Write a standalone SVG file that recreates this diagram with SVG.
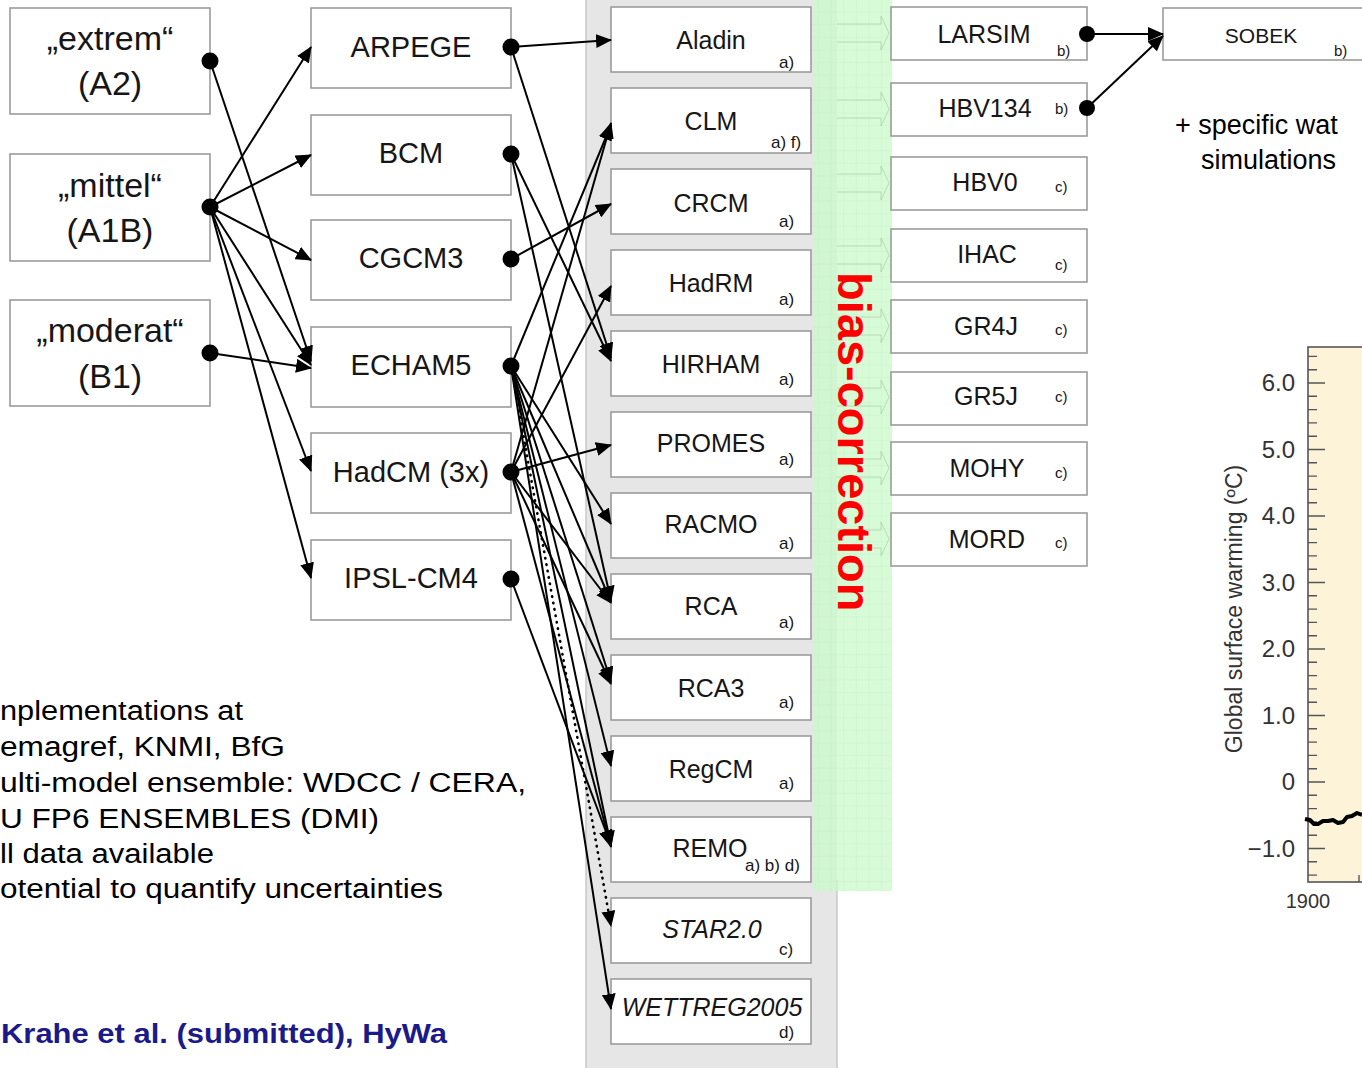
<svg xmlns="http://www.w3.org/2000/svg" width="1362" height="1068" viewBox="0 0 1362 1068">
<defs>
<style>
.t{font-family:"Liberation Sans",Arial,Helvetica,sans-serif;fill:#161616}
.box{fill:#ffffff;stroke:#9c9c9c;stroke-width:1.6}
.sc{font-size:34px;text-anchor:middle}
.gcm{font-size:29px;text-anchor:middle}
.rcm{font-size:25px;text-anchor:middle}
.hyd{font-size:25px;text-anchor:middle}
.sub{font-size:17px}
.hsub{font-size:15px}
.conn line{stroke:#000;stroke-width:2;marker-end:url(#ah)}
.conn line.dot{stroke-width:2.6;stroke-dasharray:0.5 6;stroke-linecap:round}
.dotc{fill:#000}
.body{font-size:27px;fill:#000}
.ax{font-size:24px;fill:#333;text-anchor:end}
.ghost{fill:none;stroke:#a8cfa8;stroke-width:1;stroke-opacity:0.7}
</style>
<marker id="ah" viewBox="0 0 16 14" refX="15" refY="7" markerWidth="16" markerHeight="14" markerUnits="userSpaceOnUse" orient="auto">
<path d="M0,0 L16,7 L0,14 z" fill="#000"/>
</marker>
<pattern id="grid" width="12.6" height="12.6" patternUnits="userSpaceOnUse">
<path d="M12.6,0 V12.6 M0,12.6 H12.6" fill="none" stroke="#bfeabf" stroke-width="0.8" stroke-opacity="0.6"/>
</pattern>
</defs>

<rect width="1362" height="1068" fill="#ffffff"/>

<g id="background">
<rect x="586" y="0" width="251" height="1068" fill="#e6e6e6"/>
<line x1="586" y1="0" x2="586" y2="1068" stroke="#c9c9c9" stroke-width="1.5"/>
<line x1="837" y1="880" x2="837" y2="1068" stroke="#c9c9c9" stroke-width="1.5"/>
<rect x="813" y="0" width="79" height="891" fill="#c8fac8" fill-opacity="0.75"/>
<rect x="813" y="0" width="79" height="891" fill="url(#grid)"/>
<g id="ghost-arrows">
<path class="ghost" d="M837,24 H881 V16 L889,33 L881,50 V42 H837"/>
<path class="ghost" d="M837,100 H881 V92 L889,109 L881,126 V118 H837"/>
<path class="ghost" d="M837,174 H881 V166 L889,183 L881,200 V192 H837"/>
<path class="ghost" d="M837,246 H881 V238 L889,255 L881,272 V264 H837"/>
<path class="ghost" d="M837,317 H881 V309 L889,326 L881,343 V335 H837"/>
<path class="ghost" d="M837,388 H881 V380 L889,397 L881,414 V406 H837"/>
<path class="ghost" d="M837,459 H881 V451 L889,468 L881,485 V477 H837"/>
<path class="ghost" d="M837,530 H881 V522 L889,539 L881,556 V548 H837"/>
</g>
<text class="t" transform="translate(838,272) rotate(90)" style="font-size:47px;font-weight:bold;fill:#ff0000">bias-correction</text>
</g>

<g id="chart">
<rect x="1308" y="347" width="60" height="535" fill="#fdf3d8" stroke="#555" stroke-width="1.6"/>
<path d="M1308,356.4h9M1308,369.7h9M1308,383h17M1308,396.3h9M1308,409.6h9M1308,422.9h9M1308,436.2h9M1308,449.5h17M1308,462.8h9M1308,476.1h9M1308,489.4h9M1308,502.7h9M1308,516h17M1308,529.3h9M1308,542.6h9M1308,555.9h9M1308,569.2h9M1308,582.5h17M1308,595.8h9M1308,609.1h9M1308,622.4h9M1308,635.7h9M1308,649h17M1308,662.3h9M1308,675.6h9M1308,688.9h9M1308,702.2h9M1308,715.5h17M1308,728.8h9M1308,742.1h9M1308,755.4h9M1308,768.7h9M1308,782h17M1308,795.3h9M1308,808.6h9M1308,821.9h9M1308,835.2h9M1308,848.5h17M1308,861.8h9M1308,875.1h9M1359,882v-7" stroke="#555" stroke-width="1.4" fill="none"/>
<polyline points="1305,819 1310,820 1314,824 1318,824 1323,821 1328,821 1333,820 1338,823 1343,822 1347,817 1352,816 1357,813 1362,815" fill="none" stroke="#000" stroke-width="4" stroke-linejoin="round"/>
<text class="t ax" x="1295" y="391">6.0</text>
<text class="t ax" x="1295" y="457.5">5.0</text>
<text class="t ax" x="1295" y="524">4.0</text>
<text class="t ax" x="1295" y="590.5">3.0</text>
<text class="t ax" x="1295" y="657">2.0</text>
<text class="t ax" x="1295" y="723.5">1.0</text>
<text class="t ax" x="1295" y="790">0</text>
<text class="t ax" x="1295" y="856.5">−1.0</text>
<text class="t" x="1308" y="908" style="font-size:20px;fill:#333;text-anchor:middle">1900</text>
<text class="t" transform="translate(1242,609) rotate(-90)" style="font-size:23px;fill:#333;text-anchor:middle">Global surface warming (ºC)</text>
</g>

<g id="scenario-extrem"><rect class="box" x="10" y="8" width="200" height="106"/><text class="t sc" x="110" y="50">„extrem“</text><text class="t sc" x="110" y="95">(A2)</text></g>
<g id="scenario-mittel"><rect class="box" x="10" y="154" width="200" height="107"/><text class="t sc" x="110" y="197">„mittel“</text><text class="t sc" x="110" y="242">(A1B)</text></g>
<g id="scenario-moderat"><rect class="box" x="10" y="300" width="200" height="106"/><text class="t sc" x="110" y="342">„moderat“</text><text class="t sc" x="110" y="388">(B1)</text></g>

<g id="gcm-arpege"><rect class="box" x="311" y="8" width="200" height="80"/><text class="t gcm" x="411" y="57">ARPEGE</text></g>
<g id="gcm-bcm"><rect class="box" x="311" y="115" width="200" height="80"/><text class="t gcm" x="411" y="163">BCM</text></g>
<g id="gcm-cgcm3"><rect class="box" x="311" y="220" width="200" height="80"/><text class="t gcm" x="411" y="268">CGCM3</text></g>
<g id="gcm-echam5"><rect class="box" x="311" y="327" width="200" height="80"/><text class="t gcm" x="411" y="375">ECHAM5</text></g>
<g id="gcm-hadcm"><rect class="box" x="311" y="433" width="200" height="80"/><text class="t gcm" x="411" y="482">HadCM (3x)</text></g>
<g id="gcm-ipsl"><rect class="box" x="311" y="540" width="200" height="80"/><text class="t gcm" x="411" y="588">IPSL-CM4</text></g>

<g id="rcm-aladin"><rect class="box" x="611" y="7" width="200" height="65"/><text class="t rcm" x="711" y="49">Aladin</text><text class="t sub" x="779" y="68">a)</text></g>
<g id="rcm-clm"><rect class="box" x="611" y="88" width="200" height="65"/><text class="t rcm" x="711" y="130">CLM</text><text class="t sub" x="771" y="148">a) f)</text></g>
<g id="rcm-crcm"><rect class="box" x="611" y="169" width="200" height="65"/><text class="t rcm" x="711" y="212">CRCM</text><text class="t sub" x="779" y="227">a)</text></g>
<g id="rcm-hadrm"><rect class="box" x="611" y="250" width="200" height="65"/><text class="t rcm" x="711" y="292">HadRM</text><text class="t sub" x="779" y="305">a)</text></g>
<g id="rcm-hirham"><rect class="box" x="611" y="331" width="200" height="65"/><text class="t rcm" x="711" y="373">HIRHAM</text><text class="t sub" x="779" y="385">a)</text></g>
<g id="rcm-promes"><rect class="box" x="611" y="412" width="200" height="65"/><text class="t rcm" x="711" y="452">PROMES</text><text class="t sub" x="779" y="465">a)</text></g>
<g id="rcm-racmo"><rect class="box" x="611" y="493" width="200" height="65"/><text class="t rcm" x="711" y="533">RACMO</text><text class="t sub" x="779" y="549">a)</text></g>
<g id="rcm-rca"><rect class="box" x="611" y="574" width="200" height="65"/><text class="t rcm" x="711" y="615">RCA</text><text class="t sub" x="779" y="628">a)</text></g>
<g id="rcm-rca3"><rect class="box" x="611" y="655" width="200" height="65"/><text class="t rcm" x="711" y="697">RCA3</text><text class="t sub" x="779" y="708">a)</text></g>
<g id="rcm-regcm"><rect class="box" x="611" y="736" width="200" height="65"/><text class="t rcm" x="711" y="778">RegCM</text><text class="t sub" x="779" y="789">a)</text></g>
<g id="rcm-remo"><rect class="box" x="611" y="817" width="200" height="65"/><text class="t rcm" x="710" y="857">REMO</text><text class="t sub" x="745" y="871">a) b) d)</text></g>
<g id="rcm-star"><rect class="box" x="611" y="898" width="200" height="65"/><text class="t rcm" x="712" y="938" style="font-style:italic">STAR2.0</text><text class="t sub" x="779" y="955">c)</text></g>
<g id="rcm-wettreg"><rect class="box" x="611" y="979" width="200" height="65"/><text class="t rcm" x="712" y="1016" style="font-style:italic">WETTREG2005</text><text class="t sub" x="779" y="1038">d)</text></g>

<g id="hyd-larsim"><rect class="box" x="891" y="7" width="196" height="53"/><text class="t hyd" x="984" y="43">LARSIM</text><text class="t hsub" x="1057" y="56">b)</text></g>
<g id="hyd-hbv134"><rect class="box" x="891" y="83" width="196" height="53"/><text class="t hyd" x="985" y="117">HBV134</text><text class="t hsub" x="1055" y="114">b)</text></g>
<g id="hyd-hbv0"><rect class="box" x="891" y="157" width="196" height="53"/><text class="t hyd" x="985" y="191">HBV0</text><text class="t hsub" x="1055" y="192">c)</text></g>
<g id="hyd-ihac"><rect class="box" x="891" y="229" width="196" height="53"/><text class="t hyd" x="987" y="263">IHAC</text><text class="t hsub" x="1055" y="270">c)</text></g>
<g id="hyd-gr4j"><rect class="box" x="891" y="300" width="196" height="53"/><text class="t hyd" x="986" y="335">GR4J</text><text class="t hsub" x="1055" y="335">c)</text></g>
<g id="hyd-gr5j"><rect class="box" x="891" y="372" width="196" height="53"/><text class="t hyd" x="986" y="405">GR5J</text><text class="t hsub" x="1055" y="402">c)</text></g>
<g id="hyd-mohy"><rect class="box" x="891" y="442" width="196" height="53"/><text class="t hyd" x="987" y="477">MOHY</text><text class="t hsub" x="1055" y="478">c)</text></g>
<g id="hyd-mord"><rect class="box" x="891" y="513" width="196" height="53"/><text class="t hyd" x="987" y="548">MORD</text><text class="t hsub" x="1055" y="548">c)</text></g>
<g id="hyd-sobek"><rect class="box" x="1163" y="8" width="210" height="52"/><text class="t" x="1261" y="43" style="font-size:21px;text-anchor:middle">SOBEK</text><text class="t hsub" x="1334" y="56">b)</text></g>

<g id="connectors" class="conn">
<line x1="210" y1="61" x2="311" y2="361"/>
<line x1="210" y1="207" x2="311" y2="47"/>
<line x1="210" y1="207" x2="311" y2="155"/>
<line x1="210" y1="207" x2="311" y2="260"/>
<line x1="210" y1="207" x2="311" y2="365"/>
<line x1="210" y1="207" x2="311" y2="471"/>
<line x1="210" y1="207" x2="311" y2="578"/>
<line x1="210" y1="353" x2="311" y2="368"/>
<line x1="511" y1="47" x2="611" y2="40"/>
<line x1="511" y1="47" x2="611" y2="358"/>
<line x1="511" y1="154" x2="611" y2="361"/>
<line x1="511" y1="154" x2="611" y2="601"/>
<line x1="511" y1="259" x2="611" y2="204"/>
<line x1="511" y1="366" x2="611" y2="125"/>
<line x1="511" y1="366" x2="611" y2="524"/>
<line x1="511" y1="366" x2="611" y2="602"/>
<line x1="511" y1="366" x2="611" y2="682"/>
<line x1="511" y1="366" x2="611" y2="766"/>
<line x1="511" y1="366" x2="611" y2="846"/>
<line class="dot" x1="511" y1="366" x2="611" y2="926"/>
<line x1="511" y1="366" x2="611" y2="1009"/>
<line x1="511" y1="472" x2="611" y2="123"/>
<line x1="511" y1="472" x2="611" y2="286"/>
<line x1="511" y1="472" x2="611" y2="445"/>
<line x1="511" y1="472" x2="611" y2="603"/>
<line x1="511" y1="472" x2="611" y2="684"/>
<line x1="511" y1="472" x2="611" y2="847"/>
<line x1="511" y1="579" x2="611" y2="845"/>
<line x1="1087" y1="34" x2="1163" y2="34"/>
<line x1="1087" y1="108" x2="1163" y2="36"/>
<circle class="dotc" cx="210" cy="61" r="8.5"/>
<circle class="dotc" cx="210" cy="207" r="8.5"/>
<circle class="dotc" cx="210" cy="353" r="8.5"/>
<circle class="dotc" cx="511" cy="47" r="8.5"/>
<circle class="dotc" cx="511" cy="154" r="8.5"/>
<circle class="dotc" cx="511" cy="259" r="8.5"/>
<circle class="dotc" cx="511" cy="366" r="8.5"/>
<circle class="dotc" cx="511" cy="472" r="8.5"/>
<circle class="dotc" cx="511" cy="579" r="8.5"/>
<circle class="dotc" cx="1087" cy="34" r="8"/>
<circle class="dotc" cx="1087" cy="108" r="8"/>
</g>

<g id="notes">
<text class="t" x="1175" y="134" style="font-size:27px;fill:#000">+ specific wat</text>
<text class="t" x="1201" y="169" style="font-size:27px;fill:#000">simulations</text>
<text class="t body" x="0" y="720" textLength="243" lengthAdjust="spacingAndGlyphs">nplementations at</text>
<text class="t body" x="0" y="756" textLength="285" lengthAdjust="spacingAndGlyphs">emagref, KNMI, BfG</text>
<text class="t body" x="0" y="792" textLength="526" lengthAdjust="spacingAndGlyphs">ulti-model ensemble: WDCC / CERA,</text>
<text class="t body" x="0" y="828" textLength="379" lengthAdjust="spacingAndGlyphs">U FP6 ENSEMBLES (DMI)</text>
<text class="t body" x="0" y="863" textLength="214" lengthAdjust="spacingAndGlyphs">ll data available</text>
<text class="t body" x="0" y="898" textLength="443" lengthAdjust="spacingAndGlyphs">otential to quantify uncertainties</text>
<text class="t" x="1" y="1043" textLength="446" lengthAdjust="spacingAndGlyphs" style="font-size:27px;font-weight:bold;fill:#1a1a8a">Krahe et al. (submitted), HyWa</text>
</g>
</svg>
